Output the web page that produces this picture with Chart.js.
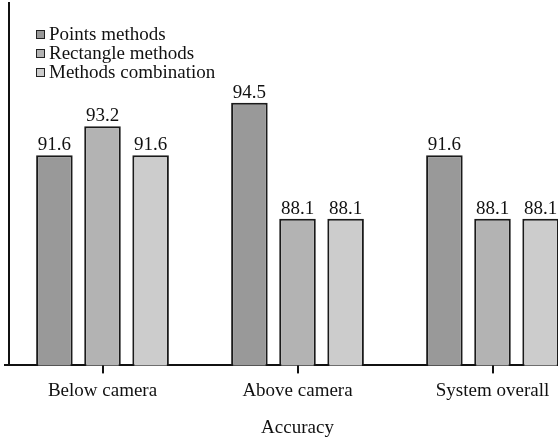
<!DOCTYPE html>
<html>
<head>
<meta charset="utf-8">
<script src="https://cdn.jsdelivr.net/npm/chart.js@4/dist/chart.umd.min.js"></script>
<style>
  html, body { margin: 0; padding: 0; background: #fff; overflow: hidden; }
  #wrap { position: relative; width: 600px; height: 439px; }
  #legend { position: absolute; left: 36px; top: 24px; font-family: "Liberation Serif", serif; font-size: 19px; color: #111; }
  #legend div { height: 19px; line-height: 19px; white-space: nowrap; }
  #legend span { display: inline-block; width: 7px; height: 7px; border: 1.5px solid #222; margin-right: 4px; vertical-align: 1px; }
</style>
</head>
<body>
<div id="wrap">
  <canvas id="chart"></canvas>
  <div id="legend"></div>
</div>
<script>
const categories = ["Below camera", "Above camera", "System overall"];
const pointsMethods = [91.6, 94.5, 91.6];
const rectangleMethods = [93.2, 88.1, 88.1];
const methodsCombination = [91.6, 88.1, 88.1];
const seriesNames = ["Points methods", "Rectangle methods", "Methods combination"];
const seriesColors = ["#999999", "#b3b3b3", "#cccccc"];

const font = "Liberation Serif";

// value labels above each bar
const valueLabels = {
    id: "valueLabels",
    afterDatasetsDraw(chart) {
        const ctx = chart.ctx;
        ctx.save();
        ctx.font = "19px '" + font + "'";
        ctx.fillStyle = "#111";
        ctx.textAlign = "center";
        ctx.textBaseline = "alphabetic";
        chart.data.datasets.forEach((ds, i) => {
            chart.getDatasetMeta(i).data.forEach((bar, j) => {
                ctx.fillText(ds.data[j].toFixed(1), bar.x, bar.y - 5);
            });
        });
        ctx.restore();
    }
};

// tick marks centred under each category
const centreTicks = {
    id: "centreTicks",
    afterDraw(chart) {
        const ctx = chart.ctx;
        const x = chart.scales.x;
        const bottom = chart.chartArea.bottom;
        ctx.save();
        ctx.fillStyle = "#111";
        for (let i = 0; i < categories.length; i++) {
            const px = Math.round(x.getPixelForValue(i));
            ctx.fillRect(px - 1, bottom, 2, 8);
        }
        ctx.restore();
    }
};

const datasets = [pointsMethods, rectangleMethods, methodsCombination].map((d, i) => ({
    label: seriesNames[i],
    data: d,
    backgroundColor: seriesColors[i],
    borderColor: "#1a1a1a",
    borderWidth: 2,
    borderSkipped: "bottom",
    categoryPercentage: 0.74,
    barPercentage: 0.76,
}));

const chart = new Chart(document.getElementById("chart"), {
    type: "bar",
    data: { labels: categories, datasets: datasets },
    plugins: [valueLabels, centreTicks],
    options: {
        responsive: true,
        maintainAspectRatio: false,
        animation: false,
        layout: { padding: { left: 5, right: 10, top: 3, bottom: 0 } },
        plugins: {
            legend: { display: false },
            tooltip: { enabled: false },
        },
        scales: {
            x: {
                grid: { display: true, drawOnChartArea: false, tickLength: 7, tickColor: "rgba(0,0,0,0)" },
                border: { color: "#111", width: 2 },
                ticks: { color: "#111", font: { family: font, size: 19 }, padding: 7 },
                title: { display: true, text: "Accuracy", color: "#111", font: { family: font, size: 19 }, padding: { top: 7, bottom: 0 } },
            },
            y: {
                position: { x: -0.48 },
                min: 80,
                max: 100,
                grid: { drawOnChartArea: false, drawTicks: false },
                border: { color: "#111", width: 2 },
                ticks: { display: false },
            },
        },
    },
});

const legend = document.getElementById("legend");
seriesNames.forEach((name, i) => {
    const row = document.createElement("div");
    const box = document.createElement("span");
    box.style.background = seriesColors[i];
    row.appendChild(box);
    row.appendChild(document.createTextNode(name));
    legend.appendChild(row);
});
</script>
</body>
</html>
